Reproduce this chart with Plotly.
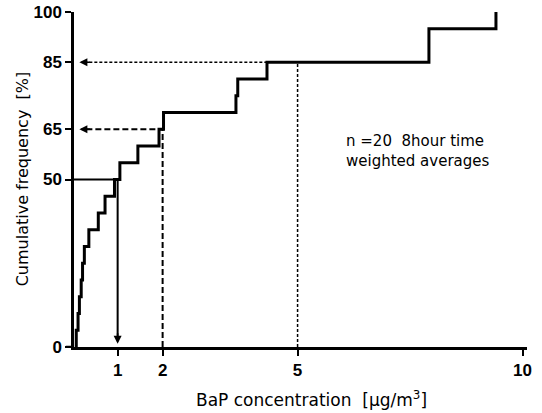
import plotly.graph_objects as go

# Sorted 8-hour TWA BaP concentrations (µg/m3), n = 20
conc_sorted = [0.08, 0.12, 0.15, 0.19, 0.22, 0.26, 0.36, 0.57, 0.72, 0.93,
               1.05, 1.45, 1.92, 2.02, 3.63, 3.67, 4.32, 7.92, 7.92, 9.41]
cum_freq = [5, 10, 15, 20, 25, 30, 35, 40, 45, 50,
            55, 60, 65, 70, 75, 80, 85, 90, 95, 100]

# Reference readings: (concentration, cumulative %)
ref_50 = (1, 50)
ref_65 = (2, 65)
ref_85 = (5, 85)

x_ticks = [1, 2, 5, 10]
y_ticks = [0, 50, 65, 85, 100]

fig = go.Figure()

# step curve
fig.add_trace(go.Scatter(
    x=[conc_sorted[0]] + conc_sorted,
    y=[0] + cum_freq,
    mode="lines", line=dict(color="black", width=3, shape="hv"),
    hoverinfo="skip", showlegend=False, cliponaxis=False))

# 50 %: solid, from axis to curve, then down to x axis
fig.add_trace(go.Scatter(
    x=[0.03, ref_50[0], ref_50[0]], y=[ref_50[1], ref_50[1], 3],
    mode="lines", line=dict(color="black", width=2),
    hoverinfo="skip", showlegend=False))
# 65 %: dashed, from x axis up to curve, then left to y axis
fig.add_trace(go.Scatter(
    x=[ref_65[0], ref_65[0], 0.2], y=[0, ref_65[1], ref_65[1]],
    mode="lines", line=dict(color="black", width=2, dash="6px,3px"),
    hoverinfo="skip", showlegend=False))
# 85 %: dotted
fig.add_trace(go.Scatter(
    x=[ref_85[0], ref_85[0], 0.2], y=[0, ref_85[1], ref_85[1]],
    mode="lines", line=dict(color="black", width=1.5, dash="3px,2px"),
    hoverinfo="skip", showlegend=False))

arrow = dict(showarrow=True, arrowhead=2, arrowsize=1, arrowwidth=1.6,
             arrowcolor="black", text="", standoff=0, startstandoff=0)
annotations = [
    dict(x=ref_50[0], y=1.0, xref="x", yref="y", ax=0, ay=-12, **arrow),
    dict(x=0.15, y=ref_65[1], xref="x", yref="y", ax=12, ay=0, **arrow),
    dict(x=0.15, y=ref_85[1], xref="x", yref="y", ax=12, ay=0, **arrow),
    dict(x=6.03, y=58.4, xref="x", yref="y", xanchor="left", yanchor="middle",
         align="left", showarrow=False,
         text="n =20  8hour time<br>weighted averages",
         font=dict(family="DejaVu Sans", size=15, color="black")),
    dict(x=-0.113, y=0.503, xref="paper", yref="paper", textangle=-90,
         xanchor="center", yanchor="middle",
         showarrow=False, text="Cumulative frequency  [%]",
         font=dict(family="DejaVu Sans", size=16, color="black")),
    dict(x=0.525, y=-0.154, xref="paper", yref="paper", showarrow=False,
         xanchor="center", yanchor="middle",
         text="BaP concentration  [µg/m<sup>3</sup>]",
         font=dict(family="DejaVu Sans", size=17, color="black")),
]

# small extension of the x axis line to the left of the y axis
shapes = [dict(type="line", xref="paper", yref="y", x0=-0.018, x1=0, y0=0, y1=0,
               line=dict(color="black", width=2.5))]

tickfont = dict(family="Liberation Sans", size=17, color="black", weight="bold")

fig.update_layout(
    width=542, height=413,
    margin=dict(l=74, r=15, t=12, b=66, autoexpand=False),
    paper_bgcolor="white", plot_bgcolor="white",
    annotations=annotations, shapes=shapes,
    xaxis=dict(range=[0.03, 10.1], tickvals=x_ticks, ticktext=[str(v) for v in x_ticks],
               showgrid=False, zeroline=False, showline=True, linecolor="black",
               linewidth=2.5, ticks="outside", ticklen=6, tickwidth=2,
               tickcolor="black", tickfont=tickfont, automargin=False),
    yaxis=dict(range=[0, 100], tickvals=y_ticks, ticktext=[str(v) for v in y_ticks],
               showgrid=False, zeroline=False, showline=True, linecolor="black",
               linewidth=2.5, ticks="outside", ticklen=6, tickwidth=2,
               tickcolor="black", tickfont=tickfont, automargin=False),
)

fig.write_html("out.html", config={"displayModeBar": False},
               post_script="document.body.style.margin='0';")
